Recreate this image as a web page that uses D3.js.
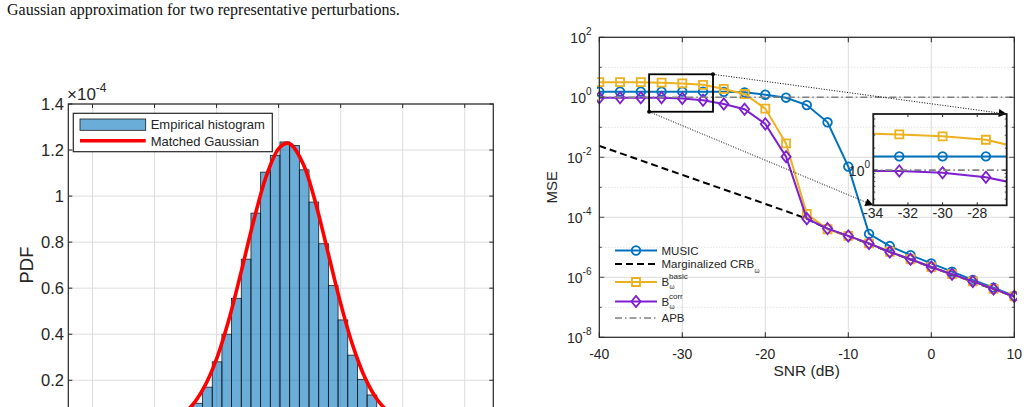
<!DOCTYPE html>
<html>
<head>
<meta charset="utf-8">
<script src="https://cdnjs.cloudflare.com/ajax/libs/d3/7.8.5/d3.min.js"></script>
<style>
  body { margin: 0; background: #fff; }
  svg { display: block; font-family: "Liberation Sans", Arial, Helvetica, sans-serif; }
</style>
</head>
<body>
<svg id="fig" width="1029" height="407"></svg>
<script>
// ---------- left panel: histogram of a perturbation (x 1e-4) ----------
var histBinStart = -2.006;
var histBinWidth = 0.156;
var histValues = [0.008, 0.018, 0.035, 0.06, 0.10, 0.17, 0.28, 0.40, 0.556, 0.726, 0.926, 1.104, 1.177,
  1.235, 1.22, 1.114, 0.974, 0.793, 0.611, 0.462, 0.309, 0.204, 0.136, 0.08, 0.05, 0.028, 0.014];
var gaussX = [-2.0, -1.8, -1.6, -1.4, -1.2, -1.0, -0.8, -0.6, -0.4, -0.2, 0, 0.134, 0.2, 0.4, 0.6, 0.8,
  1.0, 1.2, 1.4, 1.6, 1.8, 2.0, 2.2];
var gaussY = [0.0077, 0.019, 0.043, 0.089, 0.170, 0.293, 0.465, 0.675, 0.895, 1.086, 1.206, 1.23, 1.224,
  1.137, 0.966, 0.750, 0.533, 0.347, 0.206, 0.112, 0.056, 0.025, 0.0106];
var histXTicks = [-3, -2, -1, 0, 1, 2, 3];
var histYTicks = [0.2, 0.4, 0.6, 0.8, 1, 1.2, 1.4];
var histLegend = ["Empirical histogram", "Matched Gaussian"];

// ---------- right panel: MSE vs SNR ----------
var snr = [-40, -37.5, -35, -32.5, -30, -27.5, -25, -22.5, -20, -17.5, -15, -12.5, -10, -7.5, -5, -2.5,
  0, 2.5, 5, 7.5, 10];
var music = [1.54, 1.54, 1.54, 1.54, 1.54, 1.54, 1.52, 1.46, 1.22, 0.97, 0.55, 0.147, 0.0049, 2.8e-5,
  1.1e-5, 5.5e-6, 2.9e-6, 1.55e-6, 8.1e-7, 4.5e-7, 2.4e-7];
var crb = [0.024, 0.0138, 0.0079, 0.0045, 0.0026, 0.00148, 8.5e-4, 4.9e-4, 2.8e-4, 1.6e-4, 9.0e-5, 4.1e-5,
  2.35e-5, 1.3e-5, 6.9e-6, 3.9e-6, 2.15e-6, 1.24e-6, 7.1e-7, 4.0e-7, 2.25e-7];
var bBasic = [3.2, 3.2, 3.2, 3.07, 2.9, 2.6, 1.9, 1.29, 0.42, 0.029, 1.3e-4, 4.0e-5, 2.4e-5, 1.35e-5,
  7.1e-6, 4.0e-6, 2.2e-6, 1.27e-6, 7.3e-7, 4.1e-7, 2.3e-7];
var bCorr = [0.97, 0.97, 0.97, 0.975, 0.92, 0.8, 0.6, 0.4, 0.13, 0.0105, 9.0e-5, 4.2e-5, 2.4e-5, 1.35e-5,
  7.0e-6, 4.0e-6, 2.2e-6, 1.27e-6, 7.3e-7, 4.1e-7, 2.3e-7];
var apb = [1, 1, 1, 1, 1, 1, 1, 1, 1, 1, 1, 1, 1, 1, 1, 1, 1, 1, 1, 1, 1];
var snrTicks = [-40, -30, -20, -10, 0, 10];
var mseTickExp = [2, 0, -2, -4, -6, -8];
var insetXTicks = [-34, -32, -30, -28];
var insetSnr = [-34, -26.3];
var insetMse = [0.33, 5.85];

var axisCol = "#262626", gridCol = "#dcdcdc";
var cBlue = "#0072BD", cYel = "#EDB120", cPur = "#7E1FD0";

var svg = d3.select("#fig");

// caption fragment above the figures
svg.append("text").attr("x", 7).attr("y", 15)
  .style("font-family", "'Liberation Serif', 'Times New Roman', serif").style("font-size", "16px")
  .attr("fill", "#111").text("Gaussian approximation for two representative perturbations.");

// ================= LEFT PANEL =================
var hx = d3.scaleLinear().domain([-3.39, 3.46]).range([68.3, 493.3]);
var hy = d3.scaleLinear().domain([0, 1.4]).range([426.3, 104]);
var left = svg.append("g");

left.selectAll(".vg").data(histXTicks).enter().append("line")
  .attr("x1", function(d) { return hx(d); }).attr("x2", function(d) { return hx(d); })
  .attr("y1", hy(1.4)).attr("y2", hy(0)).attr("stroke", gridCol).attr("stroke-width", 1);
left.selectAll(".hg").data(histYTicks).enter().append("line")
  .attr("x1", hx.range()[0]).attr("x2", hx.range()[1])
  .attr("y1", function(d) { return hy(d); }).attr("y2", function(d) { return hy(d); })
  .attr("stroke", gridCol).attr("stroke-width", 1);

left.selectAll("rect.bar").data(histValues).enter().append("rect").attr("class", "bar")
  .attr("x", function(d, i) { return hx(histBinStart + i * histBinWidth); })
  .attr("width", function(d, i) { return hx(histBinStart + (i + 1) * histBinWidth) - hx(histBinStart + i * histBinWidth); })
  .attr("y", function(d) { return hy(d); })
  .attr("height", function(d) { return hy(0) - hy(d); })
  .attr("fill", "rgb(0,114,189)").attr("fill-opacity", 0.58)
  .attr("stroke", "#1a1a1a").attr("stroke-width", 0.8);

var gaussLine = d3.line().x(function(d) { return hx(d[0]); }).y(function(d) { return hy(d[1]); })
  .curve(d3.curveCatmullRom);
left.append("path").datum(d3.zip(gaussX, gaussY)).attr("d", gaussLine)
  .attr("fill", "none").attr("stroke", "#ff0000").attr("stroke-width", 3.6);

// axes box + ticks
left.append("rect").attr("x", hx.range()[0]).attr("y", hy(1.4))
  .attr("width", hx.range()[1] - hx.range()[0]).attr("height", hy(0) - hy(1.4))
  .attr("fill", "none").attr("stroke", axisCol).attr("stroke-width", 1.2);
histXTicks.forEach(function(t) {
  left.append("line").attr("x1", hx(t)).attr("x2", hx(t)).attr("y1", hy(1.4)).attr("y2", hy(1.4) + 4)
    .attr("stroke", axisCol);
});
histYTicks.forEach(function(t) {
  left.append("line").attr("x1", hx.range()[0]).attr("x2", hx.range()[0] + 4).attr("y1", hy(t)).attr("y2", hy(t)).attr("stroke", axisCol);
  left.append("line").attr("x1", hx.range()[1]).attr("x2", hx.range()[1] - 4).attr("y1", hy(t)).attr("y2", hy(t)).attr("stroke", axisCol);
  left.append("text").attr("x", 64).attr("y", hy(t)).attr("dy", "0.36em").attr("text-anchor", "end")
    .style("font-size", "16.5px").attr("fill", axisCol).text(d3.format("~g")(t));
});
var expo = left.append("text").attr("x", 67).attr("y", 99.5).style("font-size", "17px").attr("fill", axisCol);
expo.append("tspan").text("\u00d710");
expo.append("tspan").attr("dy", -8).style("font-size", "12px").text("-4");
left.append("text").attr("transform", "translate(33," + 265 + ") rotate(-90)")
  .attr("text-anchor", "middle").style("font-size", "18.5px").attr("fill", axisCol).text("PDF");

// legend
left.append("rect").attr("x", 73.3).attr("y", 113.3).attr("width", 199).attr("height", 38.4)
  .attr("fill", "#fff").attr("stroke", axisCol).attr("stroke-width", 1.2);
left.append("rect").attr("x", 80).attr("y", 119).attr("width", 65.7).attr("height", 11.3)
  .attr("fill", "rgb(0,114,189)").attr("fill-opacity", 0.58).attr("stroke", "#1a1a1a").attr("stroke-width", 0.8);
left.append("line").attr("x1", 80).attr("x2", 145.7).attr("y1", 140.7).attr("y2", 140.7)
  .attr("stroke", "#ff0000").attr("stroke-width", 3.6);
histLegend.forEach(function(s, i) {
  left.append("text").attr("x", 150.7).attr("y", 124.5 + i * 16.5).attr("dy", "0.36em")
    .style("font-size", "13px").attr("fill", axisCol).text(s);
});

// ================= RIGHT PANEL =================
var x = d3.scaleLinear().domain([-40, 10]).range([599.3, 1014.3]);
var y = d3.scaleLog().domain([1e-8, 1e2]).range([337.3, 37.3]);
var right = svg.append("g");

var majors = mseTickExp.map(function(e) { return Math.pow(10, e); });
var minors = y.ticks().filter(function(v) {
  var e = Math.round(Math.log10(v));
  return !(Math.abs(v / Math.pow(10, e) - 1) < 1e-6 && e % 2 === 0);
});

right.selectAll(".mg").data(minors).enter().append("line")
  .attr("x1", x.range()[0]).attr("x2", x.range()[1])
  .attr("y1", function(d) { return y(d); }).attr("y2", function(d) { return y(d); })
  .attr("stroke", "#c4c4c4").attr("stroke-width", 0.7).attr("stroke-dasharray", "1,2");
right.selectAll(".Mg").data(majors).enter().append("line")
  .attr("x1", x.range()[0]).attr("x2", x.range()[1])
  .attr("y1", function(d) { return y(d); }).attr("y2", function(d) { return y(d); })
  .attr("stroke", gridCol).attr("stroke-width", 1);
right.selectAll(".xg").data(snrTicks).enter().append("line")
  .attr("x1", function(d) { return x(d); }).attr("x2", function(d) { return x(d); })
  .attr("y1", y.range()[1]).attr("y2", y.range()[0])
  .attr("stroke", gridCol).attr("stroke-width", 1);

// markers
function markerPath(kind) {
  if (kind === "o") return d3.symbol(d3.symbolCircle, 58)();
  if (kind === "s") return "M-4,-4H4V4H-4Z";
  if (kind === "d") return "M0,-5.6L4.6,0L0,5.6L-4.6,0Z";
  return null;
}
var series = [
  { vals: music, color: cBlue, marker: "o", dash: null, width: 2 },
  { vals: crb, color: "#000", marker: null, dash: "7,4", width: 2 },
  { vals: bBasic, color: cYel, marker: "s", dash: null, width: 2 },
  { vals: bCorr, color: cPur, marker: "d", dash: null, width: 2 },
  { vals: apb, color: "#808080", marker: null, dash: "7,3,1.5,3", width: 1.6 }
];

function drawSeries(g, xs, ys) {
  var ln = d3.line().x(function(d) { return xs(d[0]); }).y(function(d) { return ys(d[1]); });
  series.forEach(function(s) {
    var pts = d3.zip(snr, s.vals);
    g.append("path").datum(pts).attr("d", ln).attr("fill", "none")
      .attr("stroke", s.color).attr("stroke-width", s.width)
      .attr("stroke-dasharray", s.dash);
    if (s.marker) {
      g.selectAll(null).data(pts).enter().append("path")
        .attr("transform", function(d) { return "translate(" + xs(d[0]) + "," + ys(d[1]) + ")"; })
        .attr("d", markerPath(s.marker)).attr("fill", "none")
        .attr("stroke", s.color).attr("stroke-width", 1.8);
    }
  });
}

svg.append("defs").html(
  '<clipPath id="clipMain"><rect x="597" y="35" width="420" height="305"/></clipPath>' +
  '<clipPath id="clipInset"><rect x="873.3" y="114" width="133.4" height="91.3"/></clipPath>' +
  '<marker id="ah" viewBox="0 0 10 10" refX="10" refY="5" markerWidth="10" markerHeight="8" orient="auto" markerUnits="userSpaceOnUse">' +
  '<path d="M0,0L10,5L0,10Z" fill="#000"/></marker>');

drawSeries(right.append("g").attr("clip-path", "url(#clipMain)"), x, y);

// axes box + ticks
right.append("rect").attr("x", x.range()[0]).attr("y", y.range()[1])
  .attr("width", x.range()[1] - x.range()[0]).attr("height", y.range()[0] - y.range()[1])
  .attr("fill", "none").attr("stroke", axisCol).attr("stroke-width", 1.2);
snrTicks.forEach(function(t) {
  right.append("line").attr("x1", x(t)).attr("x2", x(t)).attr("y1", y.range()[0]).attr("y2", y.range()[0] - 5).attr("stroke", axisCol);
  right.append("line").attr("x1", x(t)).attr("x2", x(t)).attr("y1", y.range()[1]).attr("y2", y.range()[1] + 5).attr("stroke", axisCol);
  right.append("text").attr("x", x(t)).attr("y", 358.5).attr("text-anchor", "middle")
    .style("font-size", "14px").attr("fill", axisCol).text(t);
});
y.ticks().forEach(function(v) {
  var isMajor = majors.some(function(m) { return Math.abs(m / v - 1) < 1e-6; });
  var len = isMajor ? 5 : 2.5;
  right.append("line").attr("x1", x.range()[0]).attr("x2", x.range()[0] + len).attr("y1", y(v)).attr("y2", y(v)).attr("stroke", axisCol).attr("stroke-width", 0.8);
  right.append("line").attr("x1", x.range()[1]).attr("x2", x.range()[1] - len).attr("y1", y(v)).attr("y2", y(v)).attr("stroke", axisCol).attr("stroke-width", 0.8);
});
mseTickExp.forEach(function(e) {
  var t = right.append("text").attr("x", 591.5).attr("y", y(Math.pow(10, e)) + 5.5)
    .attr("text-anchor", "end").style("font-size", "14px").attr("fill", axisCol);
  t.append("tspan").text("10");
  t.append("tspan").attr("dy", -7.5).style("font-size", "10px").text(e);
});
right.append("text").attr("x", 806.7).attr("y", 376).attr("text-anchor", "middle")
  .style("font-size", "15.5px").attr("fill", axisCol).text("SNR (dB)");
right.append("text").attr("transform", "translate(557,187.3) rotate(-90)").attr("text-anchor", "middle")
  .style("font-size", "15px").attr("fill", axisCol).text("MSE");

// legend (no box)
var legY = [250.5, 264, 282, 301.5, 318];
var legX0 = 615, legX1 = 657, legTx = 661.5;
series.forEach(function(s, i) {
  right.append("line").attr("x1", legX0).attr("x2", legX1).attr("y1", legY[i]).attr("y2", legY[i])
    .attr("stroke", s.color).attr("stroke-width", s.width).attr("stroke-dasharray", s.dash);
  if (s.marker) {
    right.append("path").attr("transform", "translate(" + (legX0 + legX1) / 2 + "," + legY[i] + ")")
      .attr("d", markerPath(s.marker)).attr("fill", "none").attr("stroke", s.color).attr("stroke-width", 1.8);
  }
});
function legText(xp, yp, str, size) {
  return right.append("text").attr("x", xp).attr("y", yp).attr("dy", "0.36em")
    .style("font-size", size + "px").attr("fill", axisCol).text(str);
}
legText(legTx, legY[0], "MUSIC", 11.5);
legText(legTx, legY[1], "Marginalized CRB", 11.5);
legText(754.5, legY[1] + 7, "\u03c9", 6.5);
legText(legTx, legY[2], "B", 11.5);
legText(669, legY[2] - 6, "basic", 8);
legText(669.5, legY[2] + 5, "\u03c9", 6.5);
legText(legTx, legY[3], "B", 11.5);
legText(669, legY[3] - 5.5, "corr", 8);
legText(669.5, legY[3] + 5.5, "\u03c9", 6.5);
legText(legTx, legY[4], "APB", 11.5);

// ---------- zoom box, connectors and inset ----------
var xi = d3.scaleLinear().domain(insetSnr).range([873.3, 1006.7]);
var yi = d3.scaleLog().domain(insetMse).range([205.3, 114]);
var bx0 = x(insetSnr[0]), bx1 = x(insetSnr[1]), by0 = y(insetMse[1]), by1 = y(insetMse[0]);

right.append("rect").attr("x", bx0).attr("y", by0).attr("width", bx1 - bx0).attr("height", by1 - by0)
  .attr("fill", "none").attr("stroke", "#000").attr("stroke-width", 1.8);
right.append("line").attr("x1", bx1).attr("y1", by0).attr("x2", xi.range()[1]).attr("y2", yi.range()[1])
  .attr("stroke", "#000").attr("stroke-width", 1).attr("stroke-dasharray", "1,1.6").attr("marker-end", "url(#ah)");
right.append("line").attr("x1", bx0).attr("y1", by1).attr("x2", xi.range()[0]).attr("y2", yi.range()[0])
  .attr("stroke", "#000").attr("stroke-width", 1).attr("stroke-dasharray", "1,1.6").attr("marker-end", "url(#ah)");
right.append("circle").attr("cx", bx1).attr("cy", by0).attr("r", 2).attr("fill", "#000");
right.append("circle").attr("cx", bx0).attr("cy", by1).attr("r", 2).attr("fill", "#000");

drawSeries(right.append("g").attr("clip-path", "url(#clipInset)"), xi, yi);

right.append("rect").attr("x", xi.range()[0]).attr("y", yi.range()[1])
  .attr("width", xi.range()[1] - xi.range()[0]).attr("height", yi.range()[0] - yi.range()[1])
  .attr("fill", "none").attr("stroke", "#1a1a1a").attr("stroke-width", 1.8);
insetXTicks.forEach(function(t) {
  right.append("line").attr("x1", xi(t)).attr("x2", xi(t)).attr("y1", yi.range()[0]).attr("y2", yi.range()[0] - 3).attr("stroke", axisCol);
  right.append("line").attr("x1", xi(t)).attr("x2", xi(t)).attr("y1", yi.range()[1]).attr("y2", yi.range()[1] + 3).attr("stroke", axisCol);
  right.append("text").attr("x", xi(t)).attr("y", 218).attr("text-anchor", "middle")
    .style("font-size", "14px").attr("fill", axisCol).text(t);
});
yi.ticks().forEach(function(v) {
  var len = Math.abs(v - 1) < 1e-6 ? 4 : 2;
  right.append("line").attr("x1", xi.range()[0]).attr("x2", xi.range()[0] + len).attr("y1", yi(v)).attr("y2", yi(v)).attr("stroke", axisCol).attr("stroke-width", 0.8);
  right.append("line").attr("x1", xi.range()[1]).attr("x2", xi.range()[1] - len).attr("y1", yi(v)).attr("y2", yi(v)).attr("stroke", axisCol).attr("stroke-width", 0.8);
});
var it = right.append("text").attr("x", 870).attr("y", yi(1) + 5.5).attr("text-anchor", "end")
  .style("font-size", "14px").attr("fill", axisCol);
it.append("tspan").text("10");
it.append("tspan").attr("dy", -7.5).style("font-size", "10px").text("0");
</script>
</body>
</html>
